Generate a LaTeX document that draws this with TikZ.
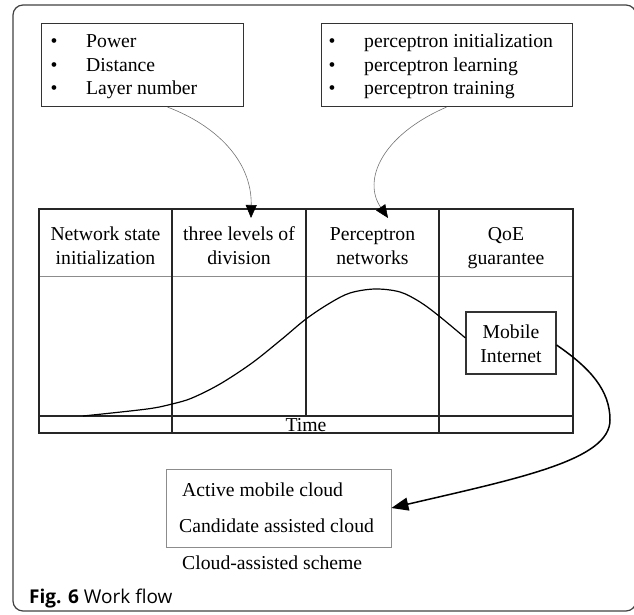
\documentclass[tikz,border=0pt]{standalone}
\usepackage{fontspec}
\setmainfont{Liberation Serif}
\newfontfamily\capfont{Open Sans}
\usetikzlibrary{arrows.meta}
\begin{document}
\begin{tikzpicture}[x=1pt,y=-1pt,
  txt/.style={font=\fontsize{19.7}{23.5}\selectfont, inner sep=0pt},
  bl/.style={txt, anchor=base west},
  bc/.style={txt, anchor=base},
  frame/.style={draw=black!75, line width=1.2pt},
  grid/.style={draw=black!85, line width=1.3pt},
  thin/.style={draw=black!45, line width=0.8pt},
  box/.style={draw=black!80, line width=1.1pt, inner sep=0pt},
  feed/.style={draw=black!55, line width=0.6pt,
    -{Triangle[length=13pt,width=11pt,color=black]}},
  flow/.style={draw=black, line width=1.2pt},
  toCloud/.style={draw=black, line width=1.5pt,
    -{Triangle[length=17pt,width=13pt]}}]
\useasboundingbox (0,0) rectangle (634,615);

% outer frame
\draw[frame, rounded corners=10pt] (13,5) rectangle (636,611);

% input boxes
\node[box, anchor=north west, minimum width=202pt, minimum height=83pt] (feat) at (41,23) {};
\node[bl] (f1b) at (50.5,48) {\textbullet};
\node[bl] (f1) at (86,48) {Power};
\node[bl] (f2b) at (50.5,71.5) {\textbullet};
\node[bl] (f2) at (86,71.5) {Distance};
\node[bl] (f3b) at (50.5,95) {\textbullet};
\node[bl] (f3) at (86,95) {Layer number};

\node[box, anchor=north west, minimum width=251pt, minimum height=83pt] (perc) at (321,23) {};
\node[bl] (p1b) at (328.5,48) {\textbullet};
\node[bl] (p1) at (364,48) {perceptron initialization};
\node[bl] (p2b) at (328.5,71.5) {\textbullet};
\node[bl] (p2) at (364,71.5) {perceptron learning};
\node[bl] (p3b) at (328.5,95) {\textbullet};
\node[bl] (p3) at (364,95) {perceptron training};

% stage table
\draw[thin] (39,276) -- (573,276);
\draw[grid] (39,209) rectangle (573,433);
\draw[grid] (172,209) -- (172,433);
\draw[grid] (306,209) -- (306,416);
\draw[grid] (439,209) -- (439,433);
\draw[grid] (39,416) -- (573,416);

\node[bc] (h1a) at (105.5,240) {Network state};
\node[bc] (h1b) at (105.5,264) {initialization};
\node[bc] (h2a) at (239,240) {three levels of};
\node[bc] (h2b) at (239,264) {division};
\node[bc] (h3a) at (372.5,240) {Perceptron};
\node[bc] (h3b) at (372.5,264) {networks};
\node[bc] (h4a) at (506,240) {QoE};
\node[bc] (h4b) at (506,264) {guarantee};
\node[bc] (time) at (306,431) {Time};

% mobile internet box
\node[box, minimum width=90pt, minimum height=62pt] (mob) at (511,343) {};
\node[bc] (m1) at (511,338) {Mobile};
\node[bc] (m2) at (511,362) {Internet};

% cloud-assisted scheme
\node[draw=black!45, line width=0.8pt, minimum width=225pt, minimum height=78pt, inner sep=0pt] (cloud) at (278.5,508) {};
\node[bl] (c1) at (182,496) {Active mobile cloud};
\node[bl] (c2) at (179,532.5) {Candidate assisted cloud};
\node[bl] (c3) at (182,569) {Cloud-assisted scheme};

% caption
\node[anchor=base west, inner sep=0pt, font=\capfont\fontsize{19}{22}\selectfont] (cap) at (29,603) {\textbf{Fig. 6} Work flow};

% arrows from the input boxes into the table
\coordinate (t2) at (251,218);
\coordinate (t3) at (388,218);
\draw[feed] (feat.south) ++(25,0) coordinate (s1) (s1) .. controls (215,125) and (252,160) .. (t2);
\draw[feed] (perc.south) ++(-0.5,0) coordinate (s2) (s2) .. controls (382,135) and (362,180) .. (t3);

% growth curve across the stages
\coordinate (c0) at (83,416);
\draw[flow] plot[smooth, tension=0.55] coordinates {(c0) (147,409) (172,404) (192,398) (220,384) (252,363) (282,339) (306,319) (330,303) (350,293) (375,289) (400,292) (420,302) (439,316) ([yshift=5pt]mob.west)};

% from mobile internet to the cloud scheme
\coordinate (bend) at (610,420);
\draw[toCloud] ([yshift=-2pt]mob.east) .. controls (590,368) and (610,390) .. (bend)
  .. controls (610,460) and (520,478) .. (cloud.east);
\end{tikzpicture}
\end{document}
